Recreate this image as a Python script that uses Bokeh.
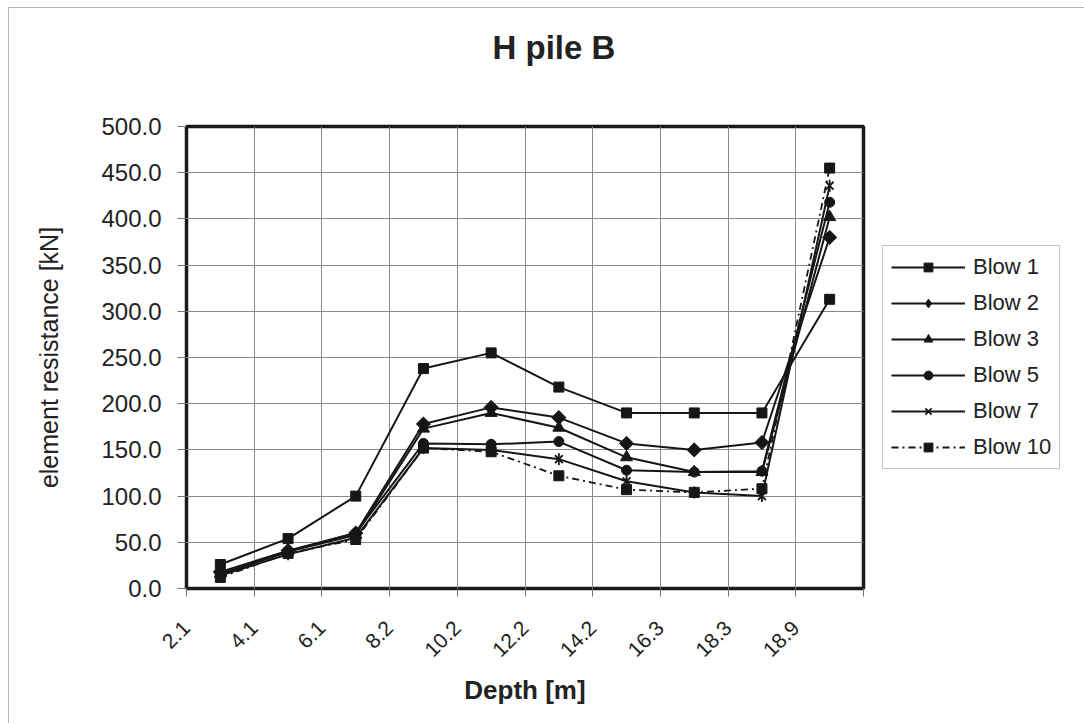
import math
from bokeh.plotting import figure
from bokeh.models import FixedTicker, PrintfTickFormatter, Legend, LegendItem, Title, Range1d
from bokeh.embed import file_html
from bokeh.resources import INLINE

# ---- data ----
depth_labels = ["2.1", "4.1", "6.1", "8.2", "10.2", "12.2", "14.2", "16.3", "18.3", "18.9"]
blow_1 = [26, 54, 100, 238, 255, 218, 190, 190, 190, 313]
blow_2 = [18, 41, 60, 178, 196, 185, 157, 150, 158, 380]
blow_3 = [16, 40, 58, 173, 190, 174, 142, 126, 126, 402]
blow_5 = [15, 40, 60, 157, 156, 159, 128, 126, 127, 418]
blow_7 = [14, 37, 55, 152, 150, 140, 116, 104, 100, 436]
blow_10 = [12, 38, 53, 152, 148, 122, 107, 104, 108, 455]
series_names = ["Blow 1", "Blow 2", "Blow 3", "Blow 5", "Blow 7", "Blow 10"]
y_ticks = [0, 50, 100, 150, 200, 250, 300, 350, 400, 450, 500]

FONT = "Liberation Sans"
n = len(depth_labels)
xs = [i + 0.5 for i in range(n)]

p = figure(frame_width=677, frame_height=462, output_backend="svg", toolbar_location=None,
           x_range=Range1d(0, n), y_range=Range1d(0, 500),
           min_border_left=186, min_border_right=221,
           min_border_top=126, min_border_bottom=135,
           background_fill_color="white", border_fill_color=None)
p.title.text = ""
# thin grey box edge (left and top) like the scanned chart frame
p.styles = {
    "background-color": "white",
    "background-image": "linear-gradient(#b5b5b5, #b5b5b5), linear-gradient(#b5b5b5, #b5b5b5)",
    "background-size": "1px 100%, 100% 1px",
    "background-position": "8px 7px, 8px 7px",
    "background-repeat": "no-repeat",
}

p.outline_line_color = "#1a1a1a"
p.outline_line_width = 3.5

# grids
p.xgrid.ticker = FixedTicker(ticks=list(range(n + 1)))
p.ygrid.ticker = FixedTicker(ticks=y_ticks)
for g in (p.xgrid, p.ygrid):
    g.grid_line_color = "#8a8a8a"
    g.grid_line_width = 1

# x axis
xa = p.xaxis[0]
xa.ticker = FixedTicker(ticks=list(range(n + 1)))
ov = {i: depth_labels[i] for i in range(n)}
ov[n] = ""
xa.major_label_overrides = ov
xa.major_label_orientation = math.pi / 4
xa.major_label_text_font = FONT
xa.major_label_text_font_size = "21px"
xa.major_label_text_color = "#222222"
xa.major_label_standoff = 28
xa.axis_label = "Depth [m]"
xa.axis_label_text_font = FONT
xa.axis_label_text_font_size = "26px"
xa.axis_label_text_font_style = "bold"
xa.axis_label_text_color = "#222222"
xa.axis_label_standoff = 9
xa.axis_line_color = None
xa.major_tick_line_color = "#777777"
xa.major_tick_out = 8
xa.major_tick_in = 0
xa.minor_tick_line_color = None

# y axis
ya = p.yaxis[0]
ya.ticker = FixedTicker(ticks=y_ticks)
ya.formatter = PrintfTickFormatter(format="%.1f")
ya.major_label_text_font = FONT
ya.major_label_text_font_size = "24px"
ya.major_label_text_color = "#222222"
ya.major_label_standoff = 16
ya.axis_label = "element resistance [kN]"
ya.axis_label_text_font = FONT
ya.axis_label_text_font_size = "25px"
ya.axis_label_text_font_style = "normal"
ya.axis_label_text_color = "#222222"
ya.axis_label_standoff = 35
ya.axis_line_color = None
ya.major_tick_line_color = "#777777"
ya.major_tick_out = 9
ya.major_tick_in = 0
ya.minor_tick_line_color = None

# series
col = "#161616"
series = [blow_1, blow_2, blow_3, blow_5, blow_7, blow_10]
dashes = ["solid", "solid", "solid", "solid", "solid", "7 4 2 4"]
widths = [2, 2, 2, 2, 2, 1.8]
items = []
for name, vals, ds, lw in zip(series_names, series, dashes, widths):
    line_r = p.line(xs, vals, line_color=col, line_width=lw, line_dash=ds)
    leg = [line_r]
    if name == "Blow 2":
        # diamond (shown in legend) covered by a rotated square in the plot
        leg.append(p.scatter(xs, vals, marker="diamond", size=12,
                             fill_color=col, line_color=col))
        p.scatter(xs, vals, marker="square", angle=math.pi / 4, size=10,
                  fill_color=col, line_color=col)
    elif name == "Blow 3":
        leg.append(p.scatter(xs, vals, marker="triangle", size=12,
                             fill_color=col, line_color=col))
    elif name == "Blow 5":
        leg.append(p.scatter(xs, vals, marker="circle", size=10,
                             fill_color=col, line_color=col))
    elif name == "Blow 7":
        leg.append(p.scatter(xs, vals, marker="x", size=11, line_color=col, line_width=1.8))
        p.scatter(xs, vals, marker="dash", angle=math.pi / 2, size=12,
                  line_color=col, line_width=1.8)
    else:
        leg.append(p.scatter(xs, vals, marker="square", size=10,
                             fill_color=col, line_color=col))
    items.append(LegendItem(label=name, renderers=leg))

legend = Legend(items=items, location="center_left")
legend.margin = 19
legend.padding = 8
legend.spacing = 10
legend.glyph_width = 74
legend.glyph_height = 22
legend.label_standoff = 8
legend.label_text_font = FONT
legend.label_text_font_size = "22px"
legend.label_text_color = "#222222"
legend.border_line_color = "#8a8a8a"
legend.border_line_width = 1.5
legend.background_fill_color = "white"
p.add_layout(legend, "right")

# title (spacer first so the title sits further from the frame)
spacer = Title(text=" ", text_font_size="10px", standoff=48)
p.add_layout(spacer, "above")
title = Title(text="H pile B", align="left", offset=306, text_font=FONT, text_font_size="33px",
              text_font_style="bold", text_color="#222222", standoff=0)
p.add_layout(title, "above")

open("out.html", "w").write(file_html(p, INLINE))
